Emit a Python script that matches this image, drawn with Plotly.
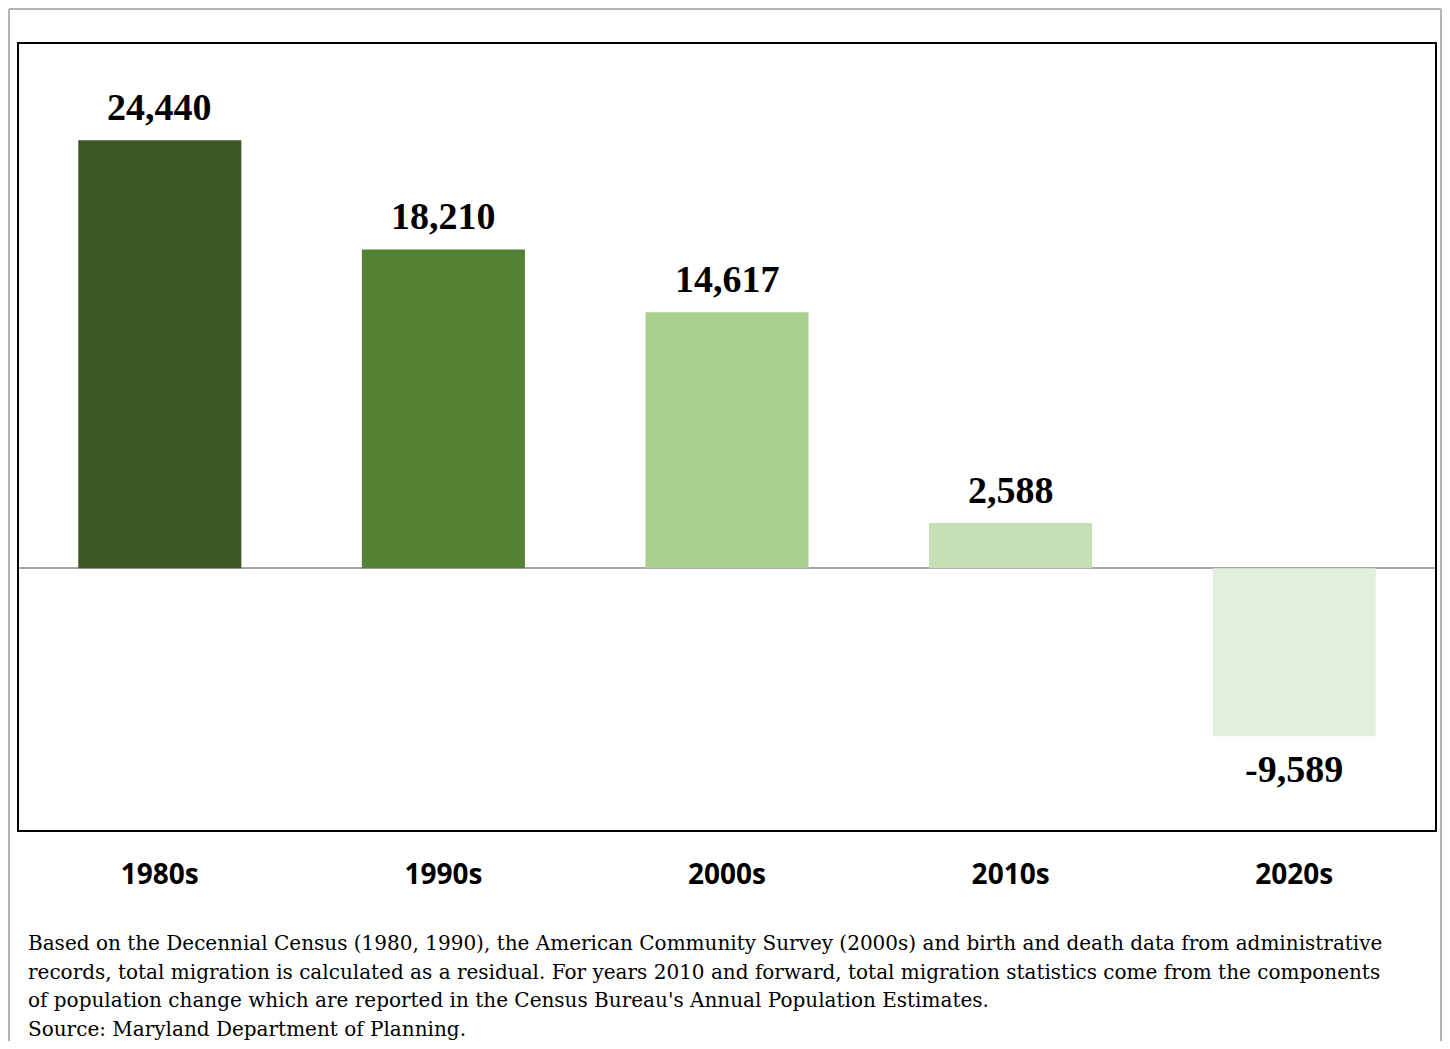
import plotly.graph_objects as go

decades = ["1980s", "1990s", "2000s", "2010s", "2020s"]
migration = [24440, 18210, 14617, 2588, -9589]
bar_colors = ["#3b5724", "#548235", "#a9d18e", "#c5e0b4", "#e2efda"]
value_labels = [f"{v:,}" for v in migration]

footnote_lines = [
    "Based on the Decennial Census (1980, 1990), the American Community Survey (2000s) and birth and death data from administrative",
    "records, total migration is calculated as a residual. For years 2010 and forward, total migration statistics come from the components",
    "of population change which are reported in the Census Bureau's Annual Population Estimates.",
    "Source: Maryland Department of Planning.",
]

# page is offset by the 8px body margin
OFF = 8
W, H = 1434, 1033
L, R, T, B = 10, 6, 35, 210
pw, ph = W - L - R, H - T - B

def px(x):  # page x -> paper
    return (x - OFF - L) / pw

def py(y):  # page y -> paper
    return (H - B - (y - OFF)) / ph

fig = go.Figure(go.Bar(
    x=decades, y=migration,
    marker=dict(color=bar_colors, line=dict(width=0)),
    hoverinfo="skip",
))

annotations = []
for d, v, t in zip(decades, migration, value_labels):
    annotations.append(dict(
        x=d, y=v, xref="x", yref="y", text=f"<b>{t}</b>", showarrow=False,
        yanchor="bottom" if v >= 0 else "top",
        yshift=10 if v >= 0 else -10,
        font=dict(family="Liberation Serif", size=38, color="#000000"),
    ))

for i, line in enumerate(footnote_lines):
    annotations.append(dict(
        text=line, xref="paper", yref="paper", x=px(26), y=py(943 + 28.5 * i),
        xanchor="left", yanchor="middle", align="left", showarrow=False,
        font=dict(family="DejaVu Serif", size=20, color="#000000")))

gray = dict(color="#b3b3b3", width=2)
fig.update_layout(
    width=W, height=H,
    margin=dict(l=L, r=R, t=T, b=B, pad=0),
    paper_bgcolor="white", plot_bgcolor="white",
    bargap=0.425,
    showlegend=False,
    xaxis=dict(showgrid=False, ticks="", ticklabelstandoff=24,
               tickfont=dict(family="Open Sans", size=28, color="#000000", weight="bold"),
               showline=False),
    yaxis=dict(range=[-15000, 30000], showgrid=False, showticklabels=False,
               zeroline=True, zerolinecolor="#a6a6a6", zerolinewidth=2, ticks=""),
    shapes=[
        dict(type="rect", xref="paper", yref="paper", x0=0, x1=1, y0=0, y1=1,
             line=dict(color="#000000", width=2), fillcolor="rgba(0,0,0,0)", layer="above"),
        dict(type="line", xref="paper", yref="paper", x0=px(9), x1=px(9), y0=py(1045), y1=py(9), line=gray),
        dict(type="line", xref="paper", yref="paper", x0=px(9), x1=px(1441), y0=py(9), y1=py(9), line=gray),
        dict(type="line", xref="paper", yref="paper", x0=px(1441), x1=px(1441), y0=py(1045), y1=py(9), line=gray),
    ],
    annotations=annotations,
)

fig.write_html("out.html")
